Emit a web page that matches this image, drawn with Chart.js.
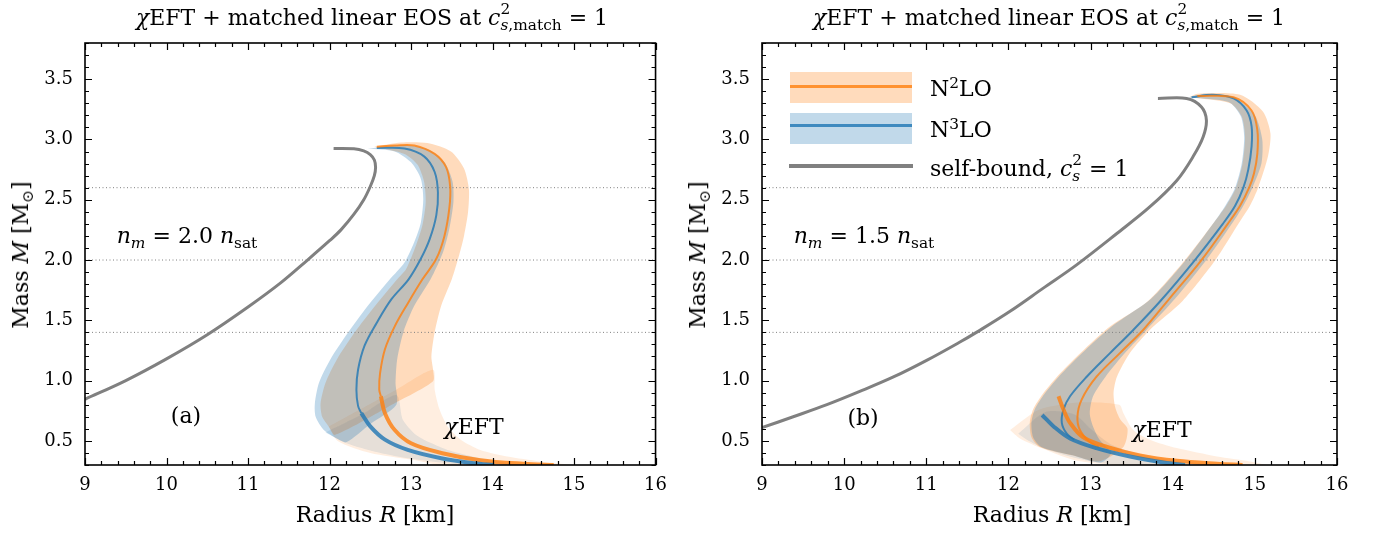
<!DOCTYPE html>
<html>
<head>
<meta charset="utf-8">
<title>chiEFT + matched linear EOS, mass-radius</title>
<script src="https://cdn.jsdelivr.net/npm/chart.js@4.4.1/dist/chart.umd.min.js"></script>
<style>
body{margin:0;background:#fff}
#wrap{position:relative;width:1379px;height:534px;font-family:'DejaVu Serif',serif;color:#000;overflow:hidden}
canvas{position:absolute;top:0}
.t{position:absolute;white-space:nowrap;font-size:22px;line-height:1;transform:translate(-50%,-50%)}
.l{position:absolute;white-space:nowrap;font-size:22px;line-height:1;transform:translate(0,-50%)}
.rot{transform:translate(-50%,-50%) rotate(-90deg)}
.ss{display:inline-block;vertical-align:-0.32em;font-size:0.7em;line-height:1.05;text-align:left}
.ss span{display:block}
sub,sup{font-size:0.7em;line-height:0}
.sw{position:absolute}
</style>
</head>
<body>
<div id="wrap">
<canvas id="ca" width="677" height="534" style="left:0;width:677px;height:534px"></canvas>
<canvas id="cb" width="702" height="534" style="left:677px;width:702px;height:534px"></canvas>

<div class="t" style="left:372px;top:17px"><i>χ</i>EFT + matched linear EOS at <i>c</i><span class="ss"><span>2</span><span><i>s</i>,match</span></span> = 1</div>
<div class="t" style="left:1049px;top:17px"><i>χ</i>EFT + matched linear EOS at <i>c</i><span class="ss"><span>2</span><span><i>s</i>,match</span></span> = 1</div>
<div class="t" style="left:375px;top:515px">Radius <i>R</i> [km]</div>
<div class="t" style="left:1052px;top:515px">Radius <i>R</i> [km]</div>
<div class="t rot" style="left:21px;top:255px">Mass <i>M</i> [M<sub>⊙</sub>]</div>
<div class="t rot" style="left:698px;top:255px">Mass <i>M</i> [M<sub>⊙</sub>]</div>

<div class="t" style="left:187px;top:236px"><i>n<sub>m</sub></i> = 2.0 <i>n</i><sub>sat</sub></div>
<div class="t" style="left:186px;top:416px">(a)</div>
<div class="t" style="left:474px;top:427px"><i>χ</i>EFT</div>
<div class="t" style="left:864px;top:236px"><i>n<sub>m</sub></i> = 1.5 <i>n</i><sub>sat</sub></div>
<div class="t" style="left:863px;top:418px">(b)</div>
<div class="t" style="left:1162px;top:430px"><i>χ</i>EFT</div>

<div class="sw" style="left:790px;top:72px;width:122px;height:31px;background:rgba(255,127,14,0.28)"></div>
<div class="sw" style="left:790px;top:85px;width:122px;height:2.5px;background:rgba(255,127,14,0.8)"></div>
<div class="sw" style="left:790px;top:113px;width:122px;height:31px;background:rgba(31,119,180,0.28)"></div>
<div class="sw" style="left:790px;top:124px;width:122px;height:2.5px;background:rgba(31,119,180,0.8)"></div>
<div class="sw" style="left:789px;top:164px;width:124px;height:3.5px;background:#808080"></div>
<div class="l" style="left:930px;top:89px">N<sup>2</sup>LO</div>
<div class="l" style="left:930px;top:130px">N<sup>3</sup>LO</div>
<div class="l" style="left:930px;top:168px">self-bound, <i>c</i><span class="ss"><span>2</span><span><i>s</i></span></span> = 1</div>
</div>

<script>
// axis tick labels
const xTicks = [9, 10, 11, 12, 13, 14, 15, 16];
const yTicks = [0.5, 1.0, 1.5, 2.0, 2.5, 3.0, 3.5];
// reference lines (dotted) in solar masses
const refMass = [1.4, 2.0, 2.6];

// ---- panel (a): n_m = 2.0 n_sat, points are [R km, M Msun]
const selfBoundA = [[9.00,0.845],[9.50,1.00],[10.00,1.18],[10.50,1.38],[11.00,1.61],[11.40,1.81],[11.73,2.00],[12.00,2.16],[12.14,2.25],[12.30,2.38],[12.42,2.50],[12.50,2.61],[12.55,2.70],[12.565,2.77],[12.55,2.83],[12.50,2.875],[12.42,2.905],[12.30,2.922],[12.05,2.925]];
const n2loLineA = [[12.58,2.94],[12.80,2.95],[13.04,2.95],[13.29,2.88],[13.43,2.77],[13.48,2.61],[13.47,2.43],[13.41,2.20],[13.31,2.01],[13.14,1.84],[12.96,1.64],[12.80,1.45],[12.68,1.26],[12.62,1.06],[12.61,0.925],[12.63,0.87]];
const n2loEftLineA = [[12.63,0.87],[12.68,0.73],[12.80,0.59],[13.00,0.48],[13.37,0.40],[13.85,0.34],[14.38,0.31],[14.75,0.30]];
const n3loLineA = [[12.58,2.93],[12.92,2.925],[13.16,2.86],[13.29,2.73],[13.33,2.56],[13.31,2.37],[13.23,2.175],[13.12,2.01],[12.97,1.84],[12.76,1.675],[12.58,1.48],[12.43,1.29],[12.35,1.09],[12.33,0.925],[12.35,0.79],[12.39,0.73]];
const n3loEftLineA = [[12.39,0.73],[12.50,0.62],[12.68,0.51],[12.96,0.425],[13.37,0.356],[13.77,0.314],[14.02,0.30]];
const n2loBandA = [[12.55,2.94],[12.92,2.88],[13.08,2.79],[13.16,2.65],[13.18,2.48],[13.14,2.29],[13.06,2.12],[12.94,1.925],[12.83,1.84],[12.56,1.62],[12.31,1.40],[12.09,1.175],[11.95,0.98],[11.89,0.81],[11.91,0.70],[11.99,0.62],[12.07,0.55],[12.82,0.82],[13.27,0.995],[13.27,1.09],[13.25,1.20],[13.29,1.40],[13.37,1.62],[13.50,1.84],[13.59,2.04],[13.65,2.20],[13.70,2.40],[13.71,2.59],[13.65,2.76],[13.49,2.90],[13.20,2.97],[12.88,2.975],[12.55,2.94]];
const n3loBandA = [[12.47,2.925],[12.80,2.90],[13.00,2.81],[13.12,2.675],[13.15,2.51],[13.12,2.31],[13.04,2.15],[12.92,1.98],[12.74,1.84],[12.47,1.62],[12.23,1.40],[12.01,1.175],[11.87,0.98],[11.82,0.81],[11.83,0.70],[11.93,0.59],[12.09,0.52],[12.21,0.49],[12.50,0.64],[12.82,0.80],[12.81,0.98],[12.83,1.175],[12.91,1.41],[13.04,1.62],[13.24,1.84],[13.39,2.06],[13.47,2.26],[13.52,2.48],[13.51,2.65],[13.41,2.81],[13.20,2.92],[12.90,2.955],[12.47,2.925]];
const n2loEftBandA = [[11.99,0.62],[12.82,0.925],[13.27,1.09],[13.29,0.925],[13.35,0.76],[13.45,0.62],[13.61,0.51],[13.85,0.425],[14.18,0.37],[14.58,0.33],[15.00,0.30],[15.10,0.28],[13.50,0.285],[13.00,0.345],[12.50,0.40],[12.10,0.50],[11.99,0.62]];
const n3loEftBandA = [[11.95,0.57],[12.40,0.72],[12.82,0.88],[12.90,0.675],[13.08,0.54],[13.45,0.425],[13.85,0.356],[14.18,0.314],[14.30,0.29],[13.77,0.295],[13.37,0.32],[12.96,0.356],[12.56,0.41],[12.21,0.48],[11.95,0.57]];

// ---- panel (b): n_m = 1.5 n_sat
const selfBoundB = [[9.00,0.61],[9.38,0.70],[9.79,0.80],[10.19,0.91],[10.60,1.03],[11.01,1.17],[11.41,1.32],[11.61,1.40],[12.02,1.575],[12.42,1.765],[12.83,1.96],[13.32,2.22],[13.72,2.44],[14.05,2.66],[14.25,2.86],[14.37,3.02],[14.41,3.16],[14.35,3.27],[14.17,3.34],[13.82,3.34]];
const n2loLineB = [[14.30,3.36],[14.74,3.35],[14.96,3.24],[15.03,3.08],[15.03,2.88],[14.99,2.72],[14.93,2.60],[14.82,2.45],[14.67,2.30],[14.35,2.00],[13.96,1.68],[13.64,1.42],[13.36,1.23],[13.07,1.03],[12.89,0.84],[12.84,0.70],[12.87,0.59],[12.99,0.49],[13.10,0.45]];
const n2loEftLineB = [[12.61,0.87],[12.67,0.76],[12.75,0.65],[12.91,0.53],[13.20,0.45],[13.60,0.38],[14.05,0.335],[14.54,0.31],[14.85,0.30]];
const n3loLineB = [[14.23,3.35],[14.49,3.37],[14.74,3.34],[14.90,3.24],[14.96,3.11],[14.96,2.94],[14.92,2.75],[14.86,2.60],[14.76,2.45],[14.61,2.30],[14.27,2.00],[13.85,1.66],[13.52,1.42],[13.24,1.23],[12.95,1.03],[12.75,0.87],[12.67,0.76],[12.65,0.65],[12.71,0.56],[12.80,0.51]];
const n3loEftLineB = [[12.41,0.715],[12.55,0.62],[12.75,0.52],[13.07,0.44],[13.48,0.37],[13.89,0.32],[14.15,0.30]];
const n2loBandB = [[14.20,3.35],[14.70,3.30],[14.84,3.19],[14.88,3.02],[14.85,2.80],[14.77,2.60],[14.65,2.45],[14.49,2.30],[14.15,2.00],[13.70,1.66],[13.24,1.45],[12.91,1.25],[12.63,1.06],[12.42,0.89],[12.30,0.76],[12.26,0.65],[12.28,0.53],[12.38,0.45],[12.78,0.38],[13.10,0.33],[13.40,0.45],[13.45,0.60],[13.36,0.68],[13.30,0.78],[13.28,0.90],[13.32,1.03],[13.48,1.23],[13.72,1.42],[14.12,1.66],[14.52,2.00],[14.80,2.30],[14.94,2.45],[15.04,2.60],[15.16,2.86],[15.19,3.05],[15.10,3.23],[14.82,3.37],[14.30,3.38],[14.20,3.35]];
const n3loBandB = [[14.18,3.35],[14.68,3.31],[14.83,3.19],[14.87,3.02],[14.84,2.80],[14.76,2.60],[14.64,2.45],[14.49,2.30],[14.16,2.00],[13.74,1.68],[13.26,1.45],[12.93,1.25],[12.65,1.06],[12.44,0.89],[12.32,0.76],[12.28,0.65],[12.30,0.53],[12.40,0.45],[12.78,0.38],[13.12,0.32],[13.25,0.40],[13.11,0.51],[13.03,0.62],[12.99,0.73],[13.03,0.87],[13.18,1.03],[13.42,1.23],[13.68,1.42],[14.03,1.68],[14.41,2.00],[14.72,2.30],[14.86,2.45],[14.97,2.60],[15.08,2.80],[15.09,3.00],[15.00,3.20],[14.75,3.35],[14.40,3.38],[14.18,3.35]];
const n2loEftBandB = [[12.02,0.59],[12.38,0.76],[12.90,0.82],[13.35,0.80],[13.40,0.73],[13.52,0.59],[13.72,0.51],[14.05,0.44],[14.54,0.37],[14.94,0.33],[15.15,0.30],[15.20,0.28],[14.00,0.285],[13.30,0.30],[12.80,0.34],[12.40,0.44],[12.14,0.52],[12.02,0.59]];
const n3loEftBandB = [[12.12,0.56],[12.45,0.74],[12.80,0.72],[13.00,0.60],[13.25,0.47],[13.65,0.38],[14.10,0.33],[14.50,0.30],[14.50,0.28],[13.60,0.29],[13.00,0.33],[12.50,0.42],[12.25,0.50],[12.12,0.56]];

const ORANGE = 'rgba(255,127,14,0.8)', BLUE = 'rgba(31,119,180,0.8)', GREY = '#808080';
const ORANGE_BAND = 'rgba(255,127,14,0.28)', BLUE_BAND = 'rgba(31,119,180,0.28)';
const ORANGE_EFT = 'rgba(255,127,14,0.13)', BLUE_EFT = 'rgba(31,119,180,0.13)';

Chart.defaults.font.family = "'DejaVu Serif', serif";
Chart.defaults.color = '#000';

const pts = a => a.map(([x, y]) => ({x, y}));
const band = (a, c, order) => ({data: pts(a), showLine: true, fill: 'shape', backgroundColor: c, borderColor: 'rgba(0,0,0,0)', borderWidth: 0, pointRadius: 0, tension: 0.25, order});
const curve = (a, c, w, order) => ({data: pts(a), showLine: true, fill: false, borderColor: c, borderWidth: w, pointRadius: 0, tension: 0.35, borderCapStyle: 'butt', order});
const dotted = m => ({data: [{x: 9, y: m}, {x: 16, y: m}], showLine: true, fill: false, borderColor: '#808080', borderWidth: 1, borderDash: [1, 2.5], pointRadius: 0, order: 8});

// inward ticks on all four sides plus the frame
const frameTicks = {
  id: 'frameTicks',
  afterDatasetsDraw(chart) {
    const {ctx, chartArea: a, scales: {x, y}} = chart;
    ctx.save();
    ctx.strokeStyle = '#000';
    ctx.lineWidth = 1.2;
    ctx.beginPath();
    for (let k = 45; k <= 80; k++) {
      const px = Math.round(x.getPixelForValue(k / 5)) + 0.5;
      const len = k % 5 === 0 ? 7 : 4;
      ctx.moveTo(px, a.bottom); ctx.lineTo(px, a.bottom - len);
      ctx.moveTo(px, a.top); ctx.lineTo(px, a.top + len);
    }
    for (let k = 3; k <= 38; k++) {
      const py = Math.round(y.getPixelForValue(k / 10)) + 0.5;
      const len = k % 5 === 0 ? 7 : 4;
      ctx.moveTo(a.left, py); ctx.lineTo(a.left + len, py);
      ctx.moveTo(a.right, py); ctx.lineTo(a.right - len, py);
    }
    ctx.stroke();
    ctx.lineWidth = 1.6;
    ctx.strokeRect(a.left, a.top, a.right - a.left, a.bottom - a.top);
    ctx.restore();
  }
};

function makeChart(id, rightPad, d) {
  const datasets = [
    band(d.eftBand3, BLUE_EFT, 13),
    band(d.eftBand2, ORANGE_EFT, 12),
    band(d.band2, ORANGE_BAND, 11),
    band(d.band3, BLUE_BAND, 10),
    ...refMass.map(dotted),
    curve(d.self, GREY, 3, 4),
    curve(d.line2, ORANGE, 2, 3),
    curve(d.line3, BLUE, 2, 3),
    curve(d.eft2, ORANGE, 4, 2),
    curve(d.eft3, BLUE, 4, 1)
  ];
  return new Chart(document.getElementById(id), {
    type: 'scatter',
    data: {datasets},
    options: {
      responsive: false,
      animation: false,
      events: [],
      layout: {padding: {top: 43, right: rightPad, bottom: 39, left: 0}},
      plugins: {legend: {display: false}, tooltip: {enabled: false}},
      scales: {
        x: {
          type: 'linear', min: 9, max: 16,
          grid: {display: false, drawTicks: false}, border: {display: false},
          ticks: {maxRotation: 0, autoSkip: false, padding: 10, font: {size: 18}, callback: v => String(v)},
          afterBuildTicks: s => { s.ticks = xTicks.map(v => ({value: v})); },
          afterFit: s => { s.height = 30; }
        },
        y: {
          type: 'linear', min: 0.3, max: 3.8,
          grid: {display: false, drawTicks: false}, border: {display: false},
          ticks: {padding: 12, font: {size: 18}, callback: v => v.toFixed(1)},
          afterBuildTicks: s => { s.ticks = yTicks.map(v => ({value: v})); },
          afterFit: s => { s.width = 85; }
        }
      }
    },
    plugins: [frameTicks]
  });
}

makeChart('ca', 17, {self: selfBoundA, line2: n2loLineA, line3: n3loLineA, eft2: n2loEftLineA, eft3: n3loEftLineA,
  band2: n2loBandA, band3: n3loBandA, eftBand2: n2loEftBandA, eftBand3: n3loEftBandA});
makeChart('cb', 42, {self: selfBoundB, line2: n2loLineB, line3: n3loLineB, eft2: n2loEftLineB, eft3: n3loEftLineB,
  band2: n2loBandB, band3: n3loBandB, eftBand2: n2loEftBandB, eftBand3: n3loEftBandB});
</script>
</body>
</html>
